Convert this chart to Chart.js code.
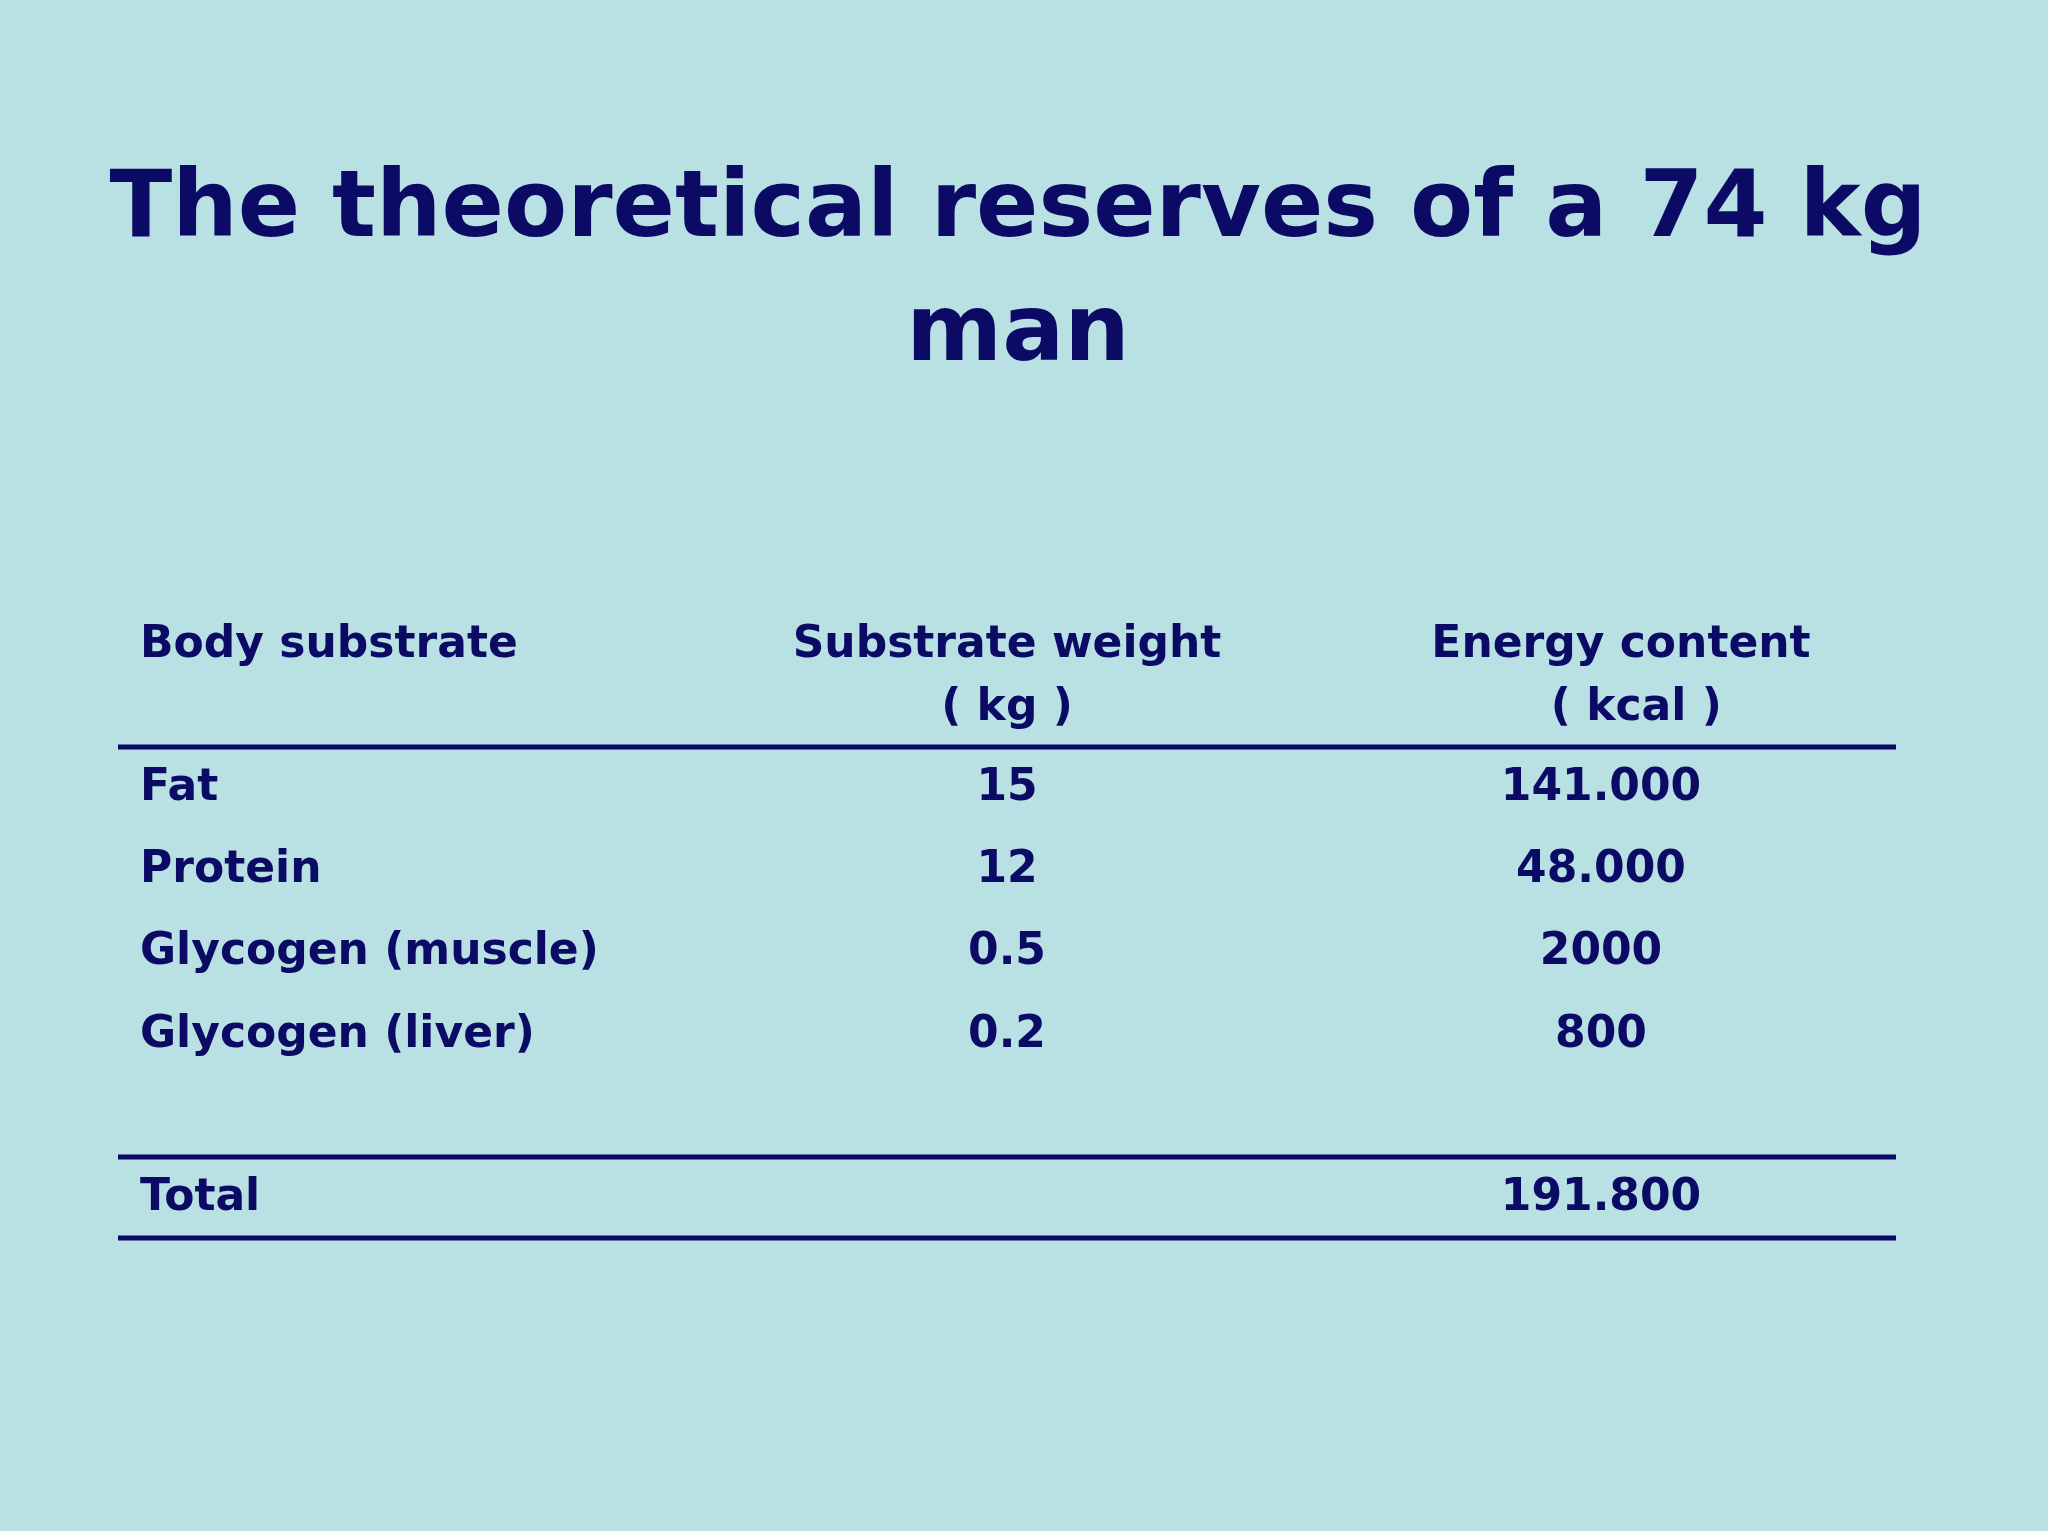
<!DOCTYPE html>
<html>
<head>
<meta charset="utf-8">
<script src="https://cdn.jsdelivr.net/npm/chart.js@4"></script>
<style>
  body { margin: 0; background: #b9e0e3; }
</style>
</head>
<body>
<canvas id="myChart" width="2048" height="1531"></canvas>
<script>
const titleLines = ["The theoretical reserves of a 74 kg", "man"];
const headers = [["Body substrate"], ["Substrate weight", "( kg )"], ["Energy content", "  ( kcal )"]];
const substrates = ["Fat", "Protein", "Glycogen (muscle)", "Glycogen (liver)"];
const weights = ["15", "12", "0.5", "0.2"];
const energy = ["141.000", "48.000", "2000", "800"];
const totalLabel = "Total";
const totalEnergy = "191.800";

const ink = "#0b0b66";
const rowY = [789, 871, 953, 1036];
const colX = [140, 1007, 1601];

let ctx = document.getElementById("myChart").getContext("2d");

const tablePlugin = {
  id: "table",
  afterDraw(chart) {
    const c = chart.ctx, x = chart.scales.x, y = chart.scales.y;
    const px = v => x.getPixelForValue(v), py = v => y.getPixelForValue(v);
    c.save();
    c.fillStyle = ink;
    c.strokeStyle = ink;
    c.textBaseline = "middle";

    // title
    c.font = "bold 92px 'DejaVu Sans'";
    c.textAlign = "center";
    titleLines.forEach((t, i) => c.fillText(t, px(1018), py(212 + i * 124)));

    // header
    c.font = "bold 44px 'DejaVu Sans'";
    headers.forEach((h, i) => {
      c.textAlign = i === 0 ? "left" : "center";
      let cx = i === 0 ? colX[0] : (i === 1 ? 1007 : 1621);
      h.forEach((t, j) => c.fillText(t, px(cx), py(646 + j * 63)));
    });

    // rows
    substrates.forEach((s, i) => {
      c.textAlign = "left";
      c.fillText(s, px(colX[0]), py(rowY[i]));
      c.textAlign = "center";
      c.fillText(weights[i], px(colX[1]), py(rowY[i]));
      c.fillText(energy[i], px(colX[2]), py(rowY[i]));
    });
    c.textAlign = "left";
    c.fillText(totalLabel, px(colX[0]), py(1199));
    c.textAlign = "center";
    c.fillText(totalEnergy, px(colX[2]), py(1199));

    // rules
    c.lineWidth = 5;
    [747, 1157, 1238].forEach(ly => {
      c.beginPath();
      c.moveTo(px(118), py(ly));
      c.lineTo(px(1896), py(ly));
      c.stroke();
    });
    c.restore();
  }
};

new Chart(ctx, {
  type: "scatter",
  data: { datasets: [] },
  options: {
    responsive: false,
    animation: false,
    layout: { padding: 0 },
    plugins: { legend: { display: false }, tooltip: { enabled: false } },
    scales: {
      x: { type: "linear", min: 0, max: 2048, display: false },
      y: { type: "linear", min: 0, max: 1531, reverse: true, display: false }
    }
  },
  plugins: [tablePlugin]
});
</script>
</body>
</html>
